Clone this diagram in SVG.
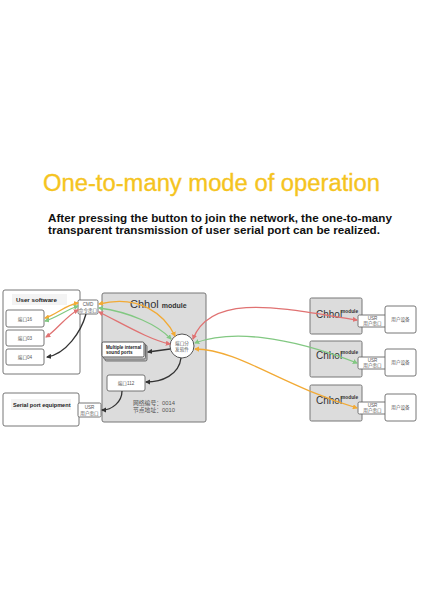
<svg xmlns="http://www.w3.org/2000/svg" width="424" height="600" viewBox="0 0 424 600">
<defs>
<style>
text{font-family:"Liberation Sans","Noto Sans CJK SC",sans-serif;}
.box{fill:#fff;stroke:#666;stroke-width:0.9;}
.small{font-size:4.6px;fill:#555;text-anchor:middle;}
.mod{fill:#dcdcdc;stroke:#777;stroke-width:1;}
.c{fill:none;stroke-width:1.3;}
.or{stroke:#f2aa35;}
.gr{stroke:#82c882;}
.rd{stroke:#e07272;}
.bk{stroke:#333;}
</style>
<marker id="mo" viewBox="0 0 10 10" refX="8" refY="5" markerWidth="4" markerHeight="4" orient="auto-start-reverse"><path d="M0,0 L10,5 L0,10 z" fill="#f2aa35"/></marker>
<marker id="mg" viewBox="0 0 10 10" refX="8" refY="5" markerWidth="4" markerHeight="4" orient="auto-start-reverse"><path d="M0,0 L10,5 L0,10 z" fill="#82c882"/></marker>
<marker id="mr" viewBox="0 0 10 10" refX="8" refY="5" markerWidth="4" markerHeight="4" orient="auto-start-reverse"><path d="M0,0 L10,5 L0,10 z" fill="#e07272"/></marker>
<marker id="mk" viewBox="0 0 10 10" refX="8" refY="5" markerWidth="4" markerHeight="4" orient="auto-start-reverse"><path d="M0,0 L10,5 L0,10 z" fill="#333"/></marker>
</defs>
<rect width="424" height="600" fill="#fff"/>
<text x="43" y="191" font-size="23" fill="#f5c41f" stroke="#f5c41f" stroke-width="0.35" textLength="337" lengthAdjust="spacingAndGlyphs">One-to-many mode of operation</text>
<text x="48" y="222" font-size="10" font-weight="bold" fill="#111" textLength="344" lengthAdjust="spacingAndGlyphs">After pressing the button to join the network, the one-to-many</text>
<text x="48" y="234" font-size="10" font-weight="bold" fill="#111" textLength="332" lengthAdjust="spacingAndGlyphs">transparent transmission of user serial port can be realized.</text>

<g id="user-software">
<rect x="3" y="290" width="77" height="84" rx="2" class="box"/>
<rect x="12" y="294" width="55" height="11" fill="#f3f3f3"/>
<text x="16" y="302" font-size="6.2" font-weight="bold" fill="#222">User software</text>
</g>
<g id="port16"><rect x="6" y="310" width="38" height="17" rx="2" class="box"/><text x="25" y="320.5" class="small">端口16</text></g>
<g id="port03"><rect x="6" y="330" width="38" height="16" rx="2" class="box"/><text x="25" y="340" class="small">端口03</text></g>
<g id="port04"><rect x="6" y="349" width="38" height="16" rx="2" class="box"/><text x="25" y="359" class="small">端口04</text></g>

<g id="serial-equipment">
<rect x="3" y="393" width="76" height="33" rx="2" class="box"/>
<rect x="11" y="399" width="60" height="11" fill="#f3f3f3"/>
<text x="13" y="406.5" font-size="5.6" font-weight="bold" fill="#222">Serial port equipment</text>
</g>

<g id="chhol-module">
<rect x="102" y="293" width="104" height="129" rx="2" class="mod"/>
<text x="130" y="308" font-size="11" fill="#333">Chhol <tspan font-size="7" font-weight="bold">module</tspan></text>
<text x="133" y="405" font-size="5.8" fill="#555">网络编号：0014</text>
<text x="133" y="412" font-size="5.8" fill="#555">节点地址：0010</text>
</g>
<g id="cmd"><rect x="78" y="300" width="20" height="14" rx="1.5" class="box"/><text x="88" y="306" class="small">CMD</text><text x="88" y="311.5" class="small">命令串口</text></g>
<g id="usr-left"><rect x="78" y="403" width="23" height="14" rx="1.5" class="box"/><text x="89.5" y="409" class="small">USR</text><text x="89.5" y="414.5" class="small">用户串口</text></g>
<g id="internal-ports">
<rect x="105" y="345" width="42" height="16" rx="1.5" fill="#bbb" stroke="#555" stroke-width="0.8"/>
<rect x="103.5" y="343.5" width="42" height="15.5" rx="1.5" fill="#ddd" stroke="#555" stroke-width="0.8"/>
<rect x="102" y="342" width="42" height="15" rx="1.5" fill="#fff" stroke="#444" stroke-width="0.9"/>
<text x="106" y="348.5" font-size="4.6" font-weight="bold" fill="#222">Multiple internal</text>
<text x="106" y="353.5" font-size="4.6" font-weight="bold" fill="#222">sound ports</text>
</g>
<g id="dispatch"><circle cx="182" cy="346" r="12" fill="#fff" stroke="#555" stroke-width="1"/><text x="182" y="345" class="small">端口分</text><text x="182" y="351" class="small">发软件</text></g>
<g id="port112"><rect x="107" y="375" width="38" height="16" rx="2" class="box"/><text x="126" y="385" class="small">端口112</text></g>

<g id="module-1"><rect x="310" y="298" width="52" height="36" rx="1.5" class="mod"/><text x="316" y="318" font-size="10" fill="#333">Chhol</text><text x="341" y="313" font-size="4.8" font-weight="bold" fill="#333">module</text></g>
<g id="usr-1"><rect x="358" y="315" width="29" height="12" rx="1.5" class="box"/><text x="372.5" y="320" class="small">USR</text><text x="372.5" y="325" class="small">用户串口</text></g>
<g id="device-1"><rect x="385" y="306" width="31" height="27" rx="2" class="box"/><text x="400.5" y="321" class="small">用户设备</text></g>

<g id="module-2"><rect x="310" y="341" width="52" height="36" rx="1.5" class="mod"/><text x="316" y="359" font-size="10" fill="#333">Chhol</text><text x="341" y="354" font-size="4.8" font-weight="bold" fill="#333">module</text></g>
<g id="usr-2"><rect x="358" y="357" width="29" height="12" rx="1.5" class="box"/><text x="372.5" y="362" class="small">USR</text><text x="372.5" y="367" class="small">用户串口</text></g>
<g id="device-2"><rect x="385" y="349" width="31" height="27" rx="2" class="box"/><text x="400.5" y="364" class="small">用户设备</text></g>

<g id="module-3"><rect x="310" y="385" width="52" height="36" rx="1.5" class="mod"/><text x="316" y="404" font-size="10" fill="#333">Chhol</text><text x="341" y="399" font-size="4.8" font-weight="bold" fill="#333">module</text></g>
<g id="usr-3"><rect x="358" y="402" width="29" height="12" rx="1.5" class="box"/><text x="372.5" y="407" class="small">USR</text><text x="372.5" y="412" class="small">用户串口</text></g>
<g id="device-3"><rect x="385" y="394" width="31" height="27" rx="2" class="box"/><text x="400.5" y="409" class="small">用户设备</text></g>

<g id="connectors">
<path class="c or" d="M78 303 C65 305,56 315,45 318" marker-start="url(#mo)" marker-end="url(#mo)"/>
<path class="c gr" d="M78 306 C66 310,56 318,45 321" marker-start="url(#mg)" marker-end="url(#mg)"/>
<path class="c rd" d="M78 310 C66 316,56 331,46 337" marker-start="url(#mr)" marker-end="url(#mr)"/>
<path class="c bk" d="M86 314 C81 332,66 354,47 357" marker-end="url(#mk)"/>
<path class="c or" d="M99 304 C140 294,165 315,175 336" marker-start="url(#mo)" marker-end="url(#mo)"/>
<path class="c gr" d="M99 308 C130 312,158 325,171 339" marker-start="url(#mg)" marker-end="url(#mg)"/>
<path class="c rd" d="M99 312 C125 325,150 340,170 344" marker-start="url(#mr)" marker-end="url(#mr)"/>
<path class="c bk" d="M170 349 L148 352" marker-end="url(#mk)"/>
<path class="c bk" d="M181 358 C179 375,162 382,146 382" marker-end="url(#mk)"/>
<path class="c bk" d="M122 391 C122 402,112 410,102 410" marker-end="url(#mk)"/>
<path class="c rd" d="M193 339 C212 290,290 310,357 320" marker-start="url(#mr)" marker-end="url(#mr)"/>
<path class="c gr" d="M195 343 C230 330,285 335,357 363" marker-start="url(#mg)" marker-end="url(#mg)"/>
<path class="c or" d="M195 349 C240 350,280 385,357 408" marker-start="url(#mo)" marker-end="url(#mo)"/>
</g>
</svg>
